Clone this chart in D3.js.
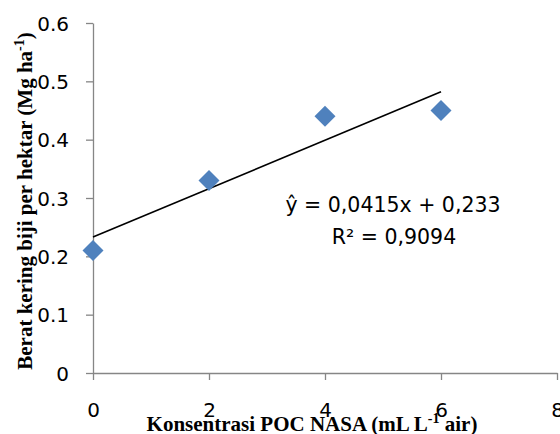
<!DOCTYPE html>
<html><head><meta charset="utf-8">
<script src="https://cdn.jsdelivr.net/npm/d3@7"></script>
<style>body{margin:0;background:#fff}svg{display:block}</style>
</head><body>
<svg id="c" width="560" height="434"></svg>
<script>
const xVals = [0, 2, 4, 6];
const yVals = [0.21, 0.33, 0.44, 0.45];
const xTicks = [0, 2, 4, 6, 8];
const yTicks = [0, 0.1, 0.2, 0.3, 0.4, 0.5, 0.6];
const trendSlope = 0.0415, trendIntercept = 0.233;
const eqLabel = "ŷ = 0,0415x + 0,233";
const r2Label = "R² = 0,9094";

const svg = d3.select("#c");
const x = d3.scaleLinear().domain([0, 8]).range([93, 557]);
const y = d3.scaleLinear().domain([0, 0.6]).range([373, 23]);
const grey = "#868686";
const tickFont = "'DejaVu Sans', sans-serif";

const xa = svg.append("g").attr("transform", "translate(0,373)")
  .call(d3.axisBottom(x).tickValues(xTicks).tickFormat(d3.format("d")).tickSize(7).tickSizeOuter(0));
const ya = svg.append("g").attr("transform", "translate(93,0)")
  .call(d3.axisLeft(y).tickValues(yTicks).tickFormat(d => d === 0 ? "0" : d3.format(".1f")(d)).tickSize(7).tickSizeOuter(0));
[xa, ya].forEach(g => {
  g.select(".domain").attr("stroke", grey).attr("stroke-width", 1.3);
  g.selectAll(".tick line").attr("stroke", grey).attr("stroke-width", 1.3);
  g.selectAll(".tick text").attr("fill", "#000").style("font-family", tickFont).style("font-size", "20px");
});
xa.selectAll(".tick text").attr("dy", null).attr("y", 44);
ya.selectAll(".tick text").attr("x", -24).attr("dy", "0.36em");

// trendline
svg.append("line")
  .attr("x1", x(0)).attr("y1", y(trendIntercept))
  .attr("x2", x(6)).attr("y2", y(trendIntercept + trendSlope * 6))
  .attr("stroke", "#000").attr("stroke-width", 1.6);

// markers
const sym = d3.symbol().type(d3.symbolSquare).size(220);
svg.selectAll(".pt").data(xVals.map((v, i) => [v, yVals[i]])).enter()
  .append("path").attr("class", "pt")
  .attr("d", sym)
  .attr("transform", d => `translate(${x(d[0])},${y(d[1])}) rotate(45)`)
  .attr("fill", "#4F81BD");

// equation
svg.append("text").attr("x", 393).attr("y", 212).attr("text-anchor", "middle")
  .style("font-family", tickFont).style("font-size", "20.5px").text(eqLabel);
svg.append("text").attr("x", 394).attr("y", 244).attr("text-anchor", "middle")
  .style("font-family", tickFont).style("font-size", "20.5px").text(r2Label);

// axis titles
const serif = "'Liberation Serif', 'Times New Roman', serif";
const xt = svg.append("text").attr("x", 312).attr("y", 431).attr("text-anchor", "middle")
  .style("font-family", serif).style("font-size", "21px").style("font-weight", "bold");
xt.append("tspan").text("Konsentrasi POC NASA (mL L");
xt.append("tspan").attr("dy", -8).style("font-size", "14px").text("-1");
xt.append("tspan").attr("dy", 8).text(" air)");

const yt = svg.append("text").attr("transform", "translate(32,201) rotate(-90)").attr("text-anchor", "middle")
  .style("font-family", serif).style("font-size", "21px").style("font-weight", "bold");
yt.append("tspan").text("Berat kering biji per hektar (Mg ha");
yt.append("tspan").attr("dy", -8).style("font-size", "14px").text("-1");
yt.append("tspan").attr("dy", 8).text(")");
</script>
</body></html>
